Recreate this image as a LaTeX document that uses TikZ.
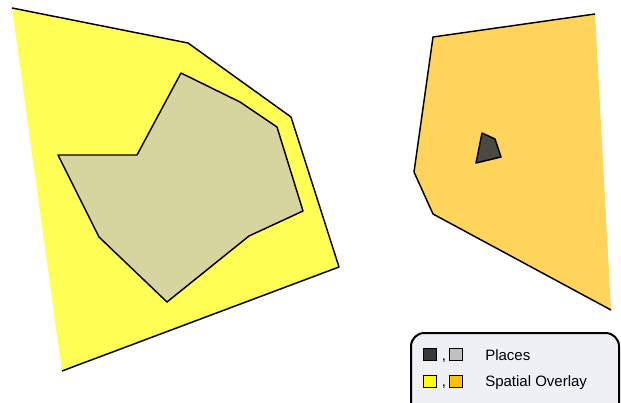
\documentclass[tikz,border=0pt]{standalone}
\usepackage{fontspec}
\setmainfont{Liberation Sans}
\usetikzlibrary{positioning}

\definecolor{overlayyellow}{HTML}{FFFF55}
\definecolor{overlayorange}{HTML}{FFD45A}
\definecolor{placetan}{HTML}{D6D59F}
\definecolor{placedark}{HTML}{4B4A40}
\definecolor{legendbg}{HTML}{EEF0F5}
\definecolor{swatchdark}{HTML}{383838}
\definecolor{swatchgray}{HTML}{C0C0C0}
\definecolor{swatchyellow}{HTML}{FFFF00}
\definecolor{swatchorange}{HTML}{FFC000}

\begin{document}
\begin{tikzpicture}[x=0.75pt, y=-0.75pt,
        outline/.style={draw=black, line width=1.1pt, line join=round},
        swatch/.style={rectangle, draw=black, line width=0.8pt, minimum size=9.5pt, inner sep=0pt},
        legtext/.style={font=\fontsize{11.25}{13}\selectfont, anchor=base west, inner sep=0pt}
    ]
        \useasboundingbox (0,0) rectangle (621,403);
        % Left overlay (fill, then open outline)
        \fill[overlayyellow] (12,8) -- (188,43) -- (291,117) -- (339,267) -- (62,371) -- cycle;
        \draw[outline] (12,8) -- (188,43) -- (291,117) -- (339,267) -- (62,371);
        % Place inside left overlay
        \filldraw[outline, fill=placetan] (58,155) -- (137,155) -- (181,73) -- (240,102) -- (277,127)
            -- (303,211) -- (249,236) -- (167,302) -- (99,237) -- cycle;
        % Right overlay (fill, then open outline)
        \fill[overlayorange] (433,37) -- (595,14) -- (611,310) -- (433,214) -- (414,172) -- cycle;
        \draw[outline] (595,14) -- (433,37) -- (414,172) -- (433,214) -- (611,310);
        % Place inside right overlay
        \filldraw[outline, fill=placedark] (482,133) -- (495,139) -- (501,157) -- (476,163) -- cycle;
        % Legend
        \draw[line width=1.5pt, fill=legendbg, rounded corners=10pt] (411,333) rectangle (619,420);
        \node[swatch, fill=swatchdark] (pdark) at (430,354.5) {};
        \node[swatch, fill=swatchgray, right=9pt of pdark] (pgray) {};
        \node[legtext] (pcomma) at (441.5,360) {,};
        \node[legtext] (ptext) at (485,360) {Places};
        \node[swatch, fill=swatchyellow, below=10pt of pdark] (oyellow) {};
        \node[swatch, fill=swatchorange, right=9pt of oyellow] (oorange) {};
        \node[legtext] (ocomma) at (441.5,386) {,};
        \node[legtext] (otext) at (485,386) {Spatial Overlay};
    \end{tikzpicture}
\end{document}
